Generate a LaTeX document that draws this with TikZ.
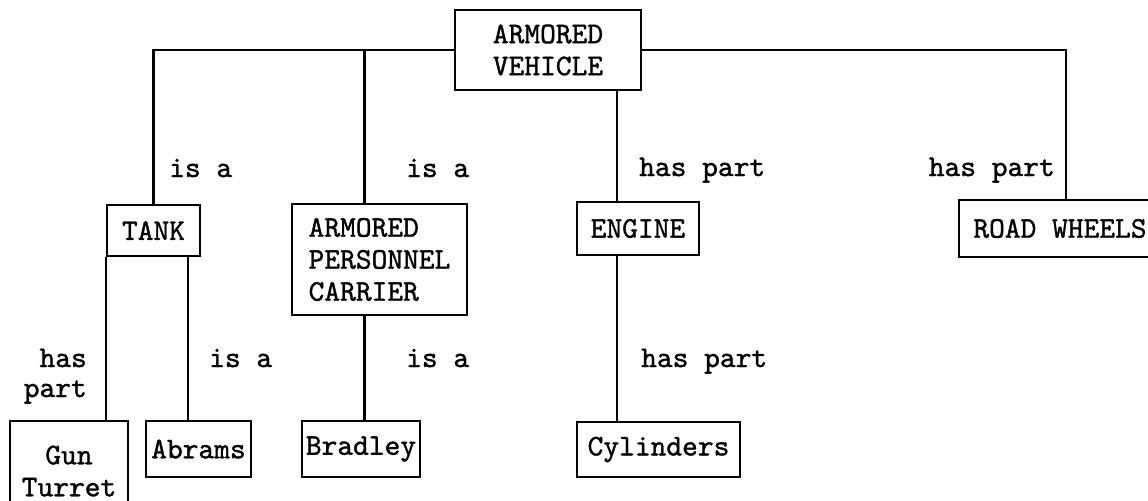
\documentclass[tikz,border=0pt]{standalone}
\usepackage{fontspec}
\setmonofont[FakeBold=1.2]{lmmono10-regular.otf}
\usepackage{tikz}
\begin{document}
\begin{tikzpicture}[x=0.5pt,y=-0.5pt,line width=1.2pt,
	box/.style={draw,inner sep=0pt,font=\ttfamily\fontsize{15}{16}\selectfont},
	lbl/.style={inner sep=0pt,font=\ttfamily\fontsize{15}{16}\selectfont}]
		\useasboundingbox (0,0) rectangle (1148,500);
		\clip (0,0) rectangle (1148,500);
		% top and second row
		\node[box,minimum width=93pt,minimum height=40pt,align=left] (av) at (548,50) {ARMORED\\VEHICLE};
		\node[box,minimum width=46.5pt,minimum height=25.5pt] (tank) at (153.5,230.5) {TANK};
		\node[box,minimum width=87.5pt,minimum height=55.5pt,align=left] (apc) at (379.5,259.5) {ARMORED\\PERSONNEL\\CARRIER};
		\node[box,minimum width=61pt,minimum height=26.5pt] (engine) at (638,228.5) {ENGINE};
		\node[box,minimum width=101pt,minimum height=28.5pt] (rw) at (1060,228.5) {ROAD WHEELS};
		% bottom row
		\node[box,minimum width=59pt,minimum height=50pt,align=center] (gun) at (69,471) {Gun\\Turret};
		\node[box,minimum width=52.5pt,minimum height=28pt] (abrams) at (198.5,449) {Abrams};
		\node[box,minimum width=59pt,minimum height=28pt] (bradley) at (361,449) {Bradley};
		\node[box,minimum width=81.5pt,minimum height=27.5pt] (cyl) at (658.5,449.5) {Cylinders};
		\coordinate (apcn) at ([xshift=-7.5pt]apc.north);
		\coordinate (apcs) at ([xshift=-7.5pt]apc.south);
		\coordinate (engn) at ([xshift=-10.5pt]engine.north);
		\coordinate (engs) at ([xshift=-10.5pt]engine.south);
		\coordinate (tanks) at ([xshift=-6.5pt]tank.south east);
		\coordinate (rwn) at ([xshift=3pt]rw.north);
		\draw (av.west) -| (tank.north);
		\draw (apcn) |- (av.west);
		\draw (engn) -- (engn |- av.south);
		\draw (av.east) -| (rwn);
		\draw (tank.south west) -- (tank.south west |- gun.north);
		\draw (tanks) -- (tanks |- abrams.north);
		\draw (apcs) -- (apcs |- bradley.north);
		\draw (engs) -- (engs |- cyl.north);
		% relation labels
		\node[lbl,anchor=base west] (l1) at (168,177) {is a};
		\node[lbl,anchor=base west] (l2) at (405,177) {is a};
		\node[lbl,anchor=base west] (l3) at (638,176) {has part};
		\node[lbl,anchor=base east] (l4) at (1056,176) {has part};
		\node[lbl,anchor=base east] (l5) at (88,367) {has};
		\node[lbl,anchor=base east] (l6) at (88,397) {part};
		\node[lbl,anchor=base west] (l7) at (208,367) {is a};
		\node[lbl,anchor=base west] (l8) at (405,367) {is a};
		\node[lbl,anchor=base west] (l9) at (640,367) {has part};
	\end{tikzpicture}
\end{document}
